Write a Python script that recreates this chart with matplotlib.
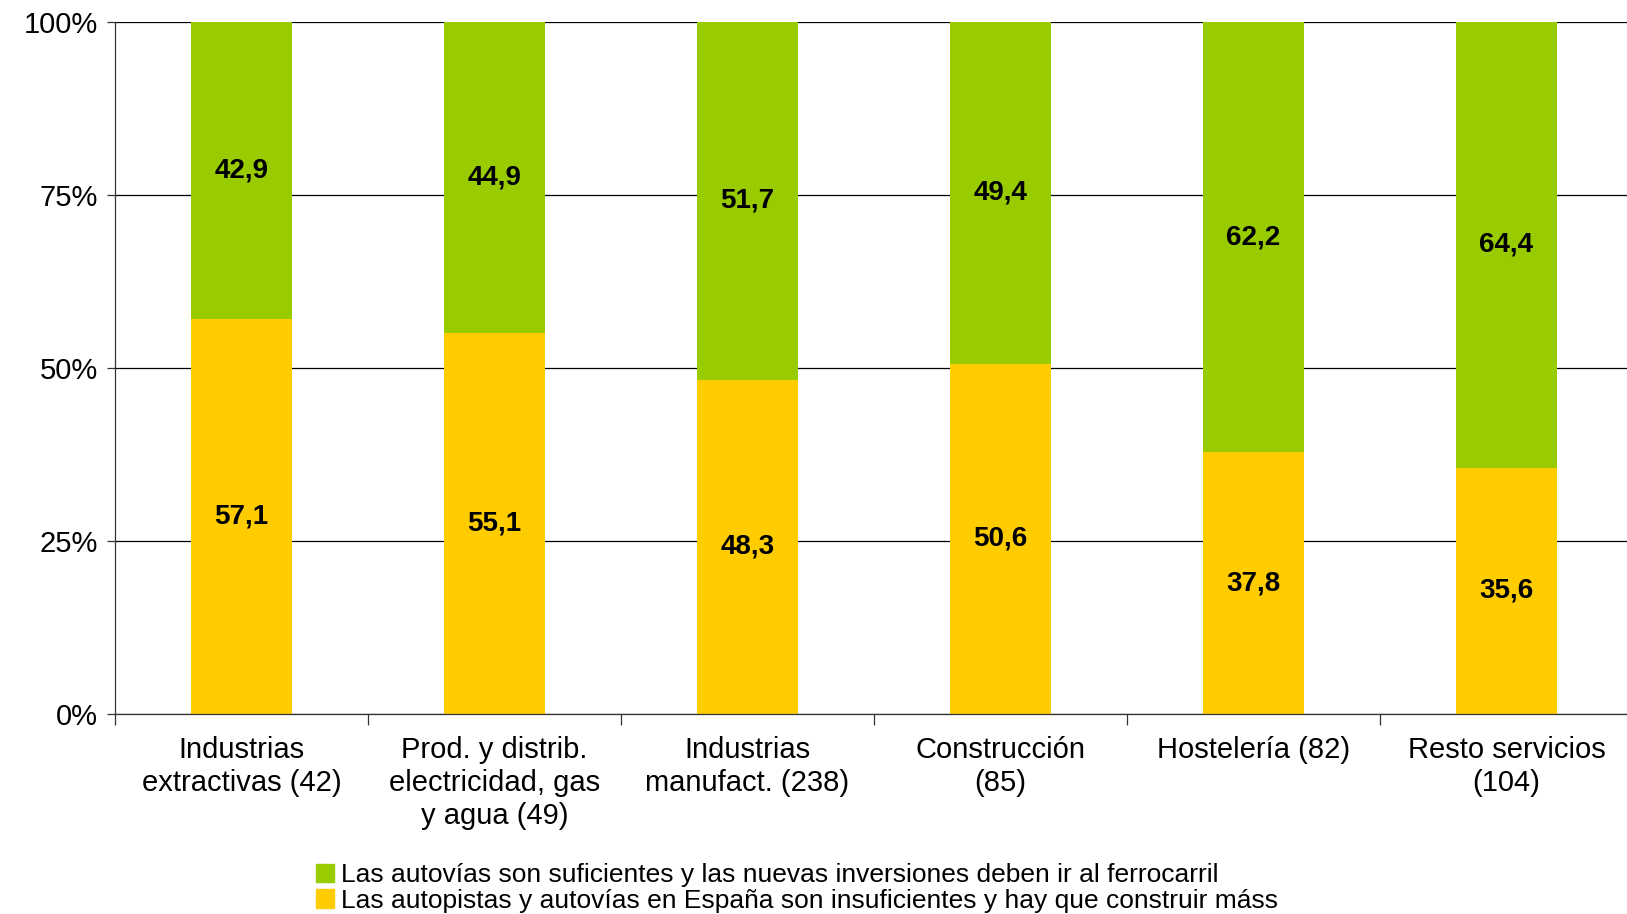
import matplotlib.pyplot as plt
from matplotlib.patches import Patch

plt.rcParams['font.family'] = ['Liberation Sans', 'DejaVu Sans']

# Data
categories = ["Industrias\nextractivas (42)", "Prod. y distrib.\nelectricidad, gas\ny agua (49)",
              "Industrias\nmanufact. (238)", "Construcción\n(85)", "Hostelería (82)",
              "Resto servicios\n(104)"]
insuficientes = [57.1, 55.1, 48.3, 50.6, 37.8, 35.6]
suficientes = [42.9, 44.9, 51.7, 49.4, 62.2, 64.4]
series_names = ["Las autovías son suficientes y las nuevas inversiones deben ir al ferrocarril",
                "Las autopistas y autovías en España son insuficientes y hay que construir máss"]
y_ticks = [0, 25, 50, 75, 100]

green = "#99CC00"
yellow = "#FFCC00"

fig = plt.figure(figsize=(16.27, 9.14), dpi=100)
ax = fig.add_axes([115 / 1627, 200 / 914, 1518 / 1627, 692 / 914])

x = [i + 0.5 for i in range(len(categories))]
ax.bar(x, insuficientes, width=0.4, color=yellow, zorder=2)
ax.bar(x, suficientes, width=0.4, bottom=insuficientes, color=green, zorder=2)

fmt = lambda v: f"{v:.1f}".replace(".", ",")
for xi, a, b in zip(x, insuficientes, suficientes):
    ax.text(xi, a / 2, fmt(a), ha="center", va="center", fontsize=20, fontweight="bold", zorder=3)
    ax.text(xi, a + b / 2, fmt(b), ha="center", va="center", fontsize=20, fontweight="bold", zorder=3)

ax.set_xlim(0, len(categories))
ax.set_ylim(0, 100)
ax.set_yticks(y_ticks)
ax.set_yticklabels([f"{t}%" for t in y_ticks], fontsize=21)
ax.yaxis.grid(True, color="black", linewidth=0.9, zorder=0)
ax.tick_params(axis="y", length=6, width=0.9, color="#333333", pad=6)

ax.set_xticks(range(len(categories) + 1))
ax.set_xticklabels([])
ax.set_xticks(x, minor=True)
ax.set_xticklabels(categories, minor=True, fontsize=21, linespacing=1.22)
ax.tick_params(axis="x", which="major", length=8, width=0.9, color="#333333")
ax.tick_params(axis="x", which="minor", length=0, pad=16)

for s in ["top", "right"]:
    ax.spines[s].set_visible(False)
for s in ["left", "bottom"]:
    ax.spines[s].set_color("#333333")
    ax.spines[s].set_linewidth(0.9)

handles = [Patch(color=green), Patch(color=yellow)]
fig.legend(handles, series_names, loc="lower left", bbox_to_anchor=(305 / 1627, -0.010),
           frameon=False, fontsize=19, handlelength=0.7, handleheight=0.7,
           handletextpad=0.25, labelspacing=0.05, borderaxespad=0.0)

fig.savefig("out.png", dpi=100)
